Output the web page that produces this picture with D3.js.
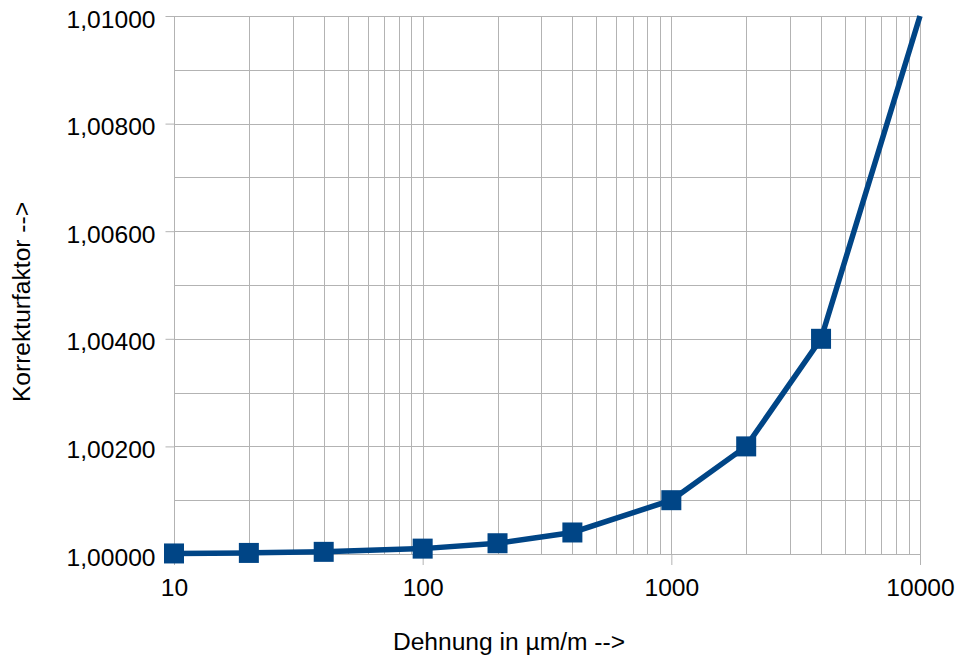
<!DOCTYPE html>
<html>
<head>
<meta charset="utf-8">
<script src="https://cdn.jsdelivr.net/npm/d3@7"></script>
<style>
  html, body { margin: 0; padding: 0; background: #ffffff; }
  svg { display: block; }
  text { font-family: "Liberation Sans", Arial, sans-serif; fill: #000; }
</style>
</head>
<body>
<svg id="chart" width="957" height="658"></svg>
<script>
// Data
const strain = [10, 20, 40, 100, 200, 400, 1000, 2000, 4000, 10000];
const factor = [1.00001, 1.00002, 1.00004, 1.0001, 1.0002, 1.0004, 1.001, 1.002, 1.004, 1.01];
const xTickLabels = [10, 100, 1000, 10000];
const yTickLabels = [1.000, 1.002, 1.004, 1.006, 1.008, 1.010];
const yGridValues = [1.000, 1.001, 1.002, 1.003, 1.004, 1.005, 1.006, 1.007, 1.008, 1.009, 1.010];
const xTitle = "Dehnung in µm/m -->";
const yTitle = "Korrekturfaktor -->";

const svg = d3.select("#chart");
const pLeft = 174, pRight = 920, pTop = 16, pBottom = 554;
const fs = 24.6;

const x = d3.scaleLog().domain([10, 10000]).range([pLeft, pRight]);
const y = d3.scaleLinear().domain([1.0, 1.01]).range([pBottom, pTop]);

const gridColor = "#b3b3b3";

// vertical grid lines (1..9 per decade)
const xGrid = [];
for (let d = 10; d < 10000; d *= 10) for (let k = 1; k < 10; k++) xGrid.push(d * k);
xGrid.push(10000);

svg.append("g").selectAll("line").data(xGrid).join("line")
  .attr("x1", d => Math.round(x(d)) + 0.5).attr("x2", d => Math.round(x(d)) + 0.5)
  .attr("y1", pTop).attr("y2", pBottom)
  .attr("stroke", gridColor).attr("stroke-width", 1);

svg.append("g").selectAll("line").data(yGridValues).join("line")
  .attr("x1", pLeft).attr("x2", pRight)
  .attr("y1", d => Math.round(y(d)) + 0.5).attr("y2", d => Math.round(y(d)) + 0.5)
  .attr("stroke", gridColor).attr("stroke-width", 1);

// y axis (ticks + labels)
const fmt = d3.format(".5f");
const yAxis = d3.axisLeft(y).tickValues(yTickLabels).tickSize(9).tickPadding(10)
  .tickFormat(d => fmt(d).replace(".", ","));
const gy = svg.append("g").attr("transform", `translate(${pLeft + 0.5},0)`).call(yAxis);
gy.select(".domain").remove();
gy.selectAll(".tick line").attr("stroke", gridColor);
gy.selectAll(".tick text").attr("font-size", fs).attr("dy", "0.45em")
  .style("font-family", '"Liberation Sans", Arial, sans-serif');

// x axis
const xAxis = d3.axisBottom(x).tickValues(xTickLabels).tickSize(11).tickPadding(14)
  .tickFormat(d3.format("d"));
const gx = svg.append("g").attr("transform", `translate(0,${pBottom})`).call(xAxis);
gx.select(".domain").remove();
gx.selectAll(".tick line").attr("stroke", gridColor);
gx.selectAll(".tick text").attr("font-size", fs).attr("dy", "0.71em")
  .style("font-family", '"Liberation Sans", Arial, sans-serif');

// series line
const pts = strain.map((s, i) => [s, factor[i]]);
const line = d3.line().x(d => x(d[0])).y(d => y(d[1]));
const color = "#004586";
svg.append("path").datum(pts)
  .attr("d", line).attr("fill", "none")
  .attr("stroke", color).attr("stroke-width", 5.5).attr("stroke-linejoin", "miter");

// markers (not at the plot's outer corner point)
const ms = 20;
svg.append("g").selectAll("rect").data(pts.filter(d => d[0] < x.domain()[1])).join("rect")
  .attr("x", d => x(d[0]) - ms / 2).attr("y", d => y(d[1]) - ms / 2)
  .attr("width", ms).attr("height", ms).attr("fill", color);

// axis titles
svg.append("text").attr("x", 509).attr("y", 650).attr("text-anchor", "middle")
  .attr("font-size", fs).text(xTitle);
svg.append("text").attr("transform", "translate(30,302) rotate(-90)")
  .attr("text-anchor", "middle").attr("font-size", fs).text(yTitle);
</script>
</body>
</html>
